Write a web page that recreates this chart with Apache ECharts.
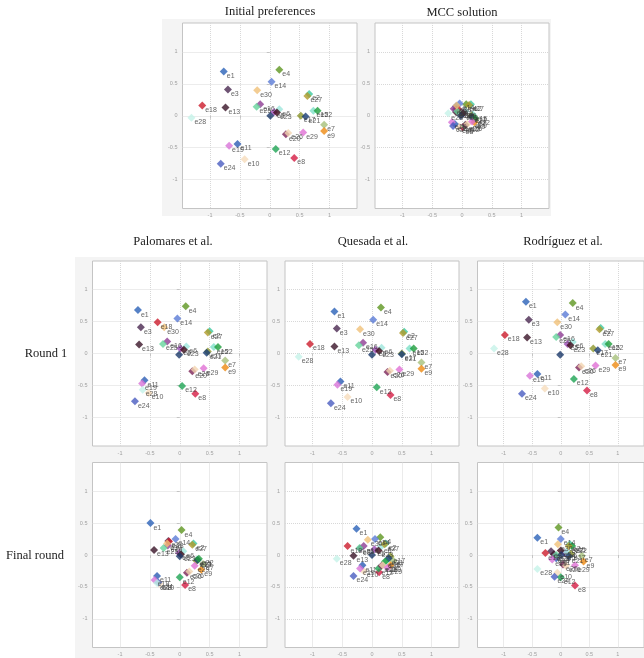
<!DOCTYPE html>
<html>
<head>
<meta charset="utf-8">
<script src="https://cdn.jsdelivr.net/npm/echarts@6/dist/echarts.min.js"></script>
<style>
  html, body { margin: 0; padding: 0; background: #fff; }
  #chart { width: 644px; height: 658px; }
</style>
</head>
<body>
<div id="chart"></div>
<script>
// expert names (last one is the unlabeled navy point near the origin)
const names = ["e1","e2","e3","e4","e5","e6","e7","e8","e9","e10","e11","e12","e13","e14","e15",
  "e16","e17","e18","e19","e20","e21","e22","e23","e24","e25","e26","e27","e28","e29","e30",""];

const colors = ["#2a62b8","#3cc8a0","#4a2850","#5e9620","#9a4ab4","#9ee6dc","#a6c07a","#d41c44",
  "#ee8a12","#f6dcbc","#2c5cb4","#1ea454","#3a1428","#5a7ad6","#7ee0c8","#8e3c94","#8c962c",
  "#cc1c2c","#d874d8","#7c2458","#183c74","#1e9e3c","#3c0a18","#4a5cc0","#66d49c","#f2d4b0",
  "#b09a2a","#c6f2e8","#e070d4","#f0c078","#1c3a6a"];

const tickValues = [-1, -0.5, 0, 0.5, 1];

const initialPrefs = [[-0.77,0.69],[0.66,0.34],[-0.70,0.41],[0.16,0.72],[0.07,0.06],[0.16,0.10],
  [0.91,-0.14],[0.41,-0.66],[0.91,-0.24],[-0.42,-0.68],[-0.54,-0.44],[0.10,-0.52],[-0.74,0.13],
  [0.03,0.53],[0.73,0.08],[-0.16,0.18],[0.52,0.0],[-1.13,0.16],[-0.68,-0.47],[0.27,-0.29],
  [0.60,-0.01],[0.80,0.08],[0.12,0.05],[-0.82,-0.75],[-0.22,0.14],[0.31,-0.27],[0.63,0.31],
  [-1.31,-0.03],[0.56,-0.26],[-0.21,0.40],[0.01,0.0]];

const mccSolution = [[-0.10,0.15],[0.15,0.18],[-0.10,0.10],[0.07,0.18],[0.03,0.05],[0.06,0.07],
  [0.22,-0.06],[0.01,-0.18],[0.21,-0.10],[-0.05,-0.17],[-0.12,-0.13],[0.05,-0.15],[-0.10,0.06],
  [-0.04,0.19],[0.18,0.02],[-0.14,0.11],[0.16,0.0],[-0.06,0.10],[-0.17,-0.10],[0.06,-0.14],
  [0.17,-0.02],[0.22,-0.04],[0.02,0.04],[-0.15,-0.16],[-0.08,0.07],[0.09,-0.13],[0.12,0.17],
  [-0.23,0.04],[0.17,-0.09],[-0.09,0.16],[-0.02,0.0]];

const palomaresR1 = [[-0.70,0.68],[0.50,0.35],[-0.65,0.41],[0.10,0.74],[0.01,0.08],[0.11,0.11],
  [0.76,-0.11],[0.26,-0.63],[0.76,-0.22],[-0.52,-0.62],[-0.59,-0.42],[0.04,-0.51],[-0.68,0.14],
  [-0.04,0.55],[0.57,0.10],[-0.21,0.19],[0.47,0.03],[-0.37,0.49],[-0.63,-0.47],[0.21,-0.28],
  [0.45,0.01],[0.64,0.10],[0.07,0.06],[-0.75,-0.75],[-0.28,0.15],[0.25,-0.25],[0.47,0.33],
  [-0.62,-0.57],[0.40,-0.23],[-0.26,0.41],[-0.01,-0.02]];

const quesadaR1 = [[-0.63,0.66],[0.54,0.34],[-0.59,0.39],[0.15,0.72],[0.06,0.06],[0.16,0.09],
  [0.83,-0.14],[0.31,-0.65],[0.83,-0.24],[-0.41,-0.68],[-0.53,-0.44],[0.08,-0.53],[-0.63,0.11],
  [0.02,0.53],[0.63,0.08],[-0.15,0.17],[0.50,0.0],[-1.04,0.15],[-0.58,-0.49],[0.26,-0.29],
  [0.50,-0.01],[0.70,0.08],[0.12,0.04],[-0.69,-0.78],[-0.22,0.13],[0.30,-0.27],[0.52,0.32],
  [-1.23,-0.05],[0.46,-0.25],[-0.20,0.38],[0.0,-0.02]];

const rodriguezR1 = [[-0.61,0.81],[0.70,0.40],[-0.56,0.53],[0.21,0.79],[0.12,0.15],[0.21,0.18],
  [0.96,-0.07],[0.46,-0.58],[0.96,-0.18],[-0.28,-0.55],[-0.41,-0.32],[0.23,-0.40],[-0.59,0.25],
  [0.08,0.61],[0.78,0.15],[-0.01,0.29],[0.57,0.08],[-0.98,0.29],[-0.54,-0.35],[0.32,-0.22],
  [0.65,0.05],[0.84,0.15],[0.17,0.13],[-0.68,-0.63],[-0.08,0.26],[0.36,-0.20],[0.68,0.38],
  [-1.17,0.08],[0.61,-0.19],[-0.06,0.49],[-0.01,-0.02]];

const palomaresFinal = [[-0.49,0.50],[0.23,0.18],[-0.19,0.22],[0.03,0.39],[-0.01,0.03],[0.06,0.06],
  [0.39,-0.14],[0.09,-0.47],[0.36,-0.23],[-0.34,-0.45],[-0.38,-0.33],[0.0,-0.35],[-0.43,0.08],
  [-0.07,0.25],[0.29,-0.07],[-0.20,0.15],[0.28,-0.09],[-0.18,0.21],[-0.42,-0.39],[0.12,-0.28],
  [0.30,-0.08],[0.32,-0.06],[0.02,0.01],[-0.36,-0.43],[-0.27,0.11],[0.16,-0.26],[0.21,0.16],
  [-0.38,-0.44],[0.25,-0.17],[-0.21,0.18],[0.0,-0.02]];

const quesadaFinal = [[-0.26,0.41],[0.23,0.18],[-0.20,0.10],[0.14,0.28],[0.04,0.09],[0.15,0.13],
  [0.36,-0.09],[0.12,-0.27],[0.31,-0.16],[-0.14,-0.25],[-0.16,-0.16],[0.11,-0.21],[-0.31,-0.01],
  [0.05,0.25],[0.24,-0.09],[-0.14,0.14],[0.31,-0.02],[-0.41,0.14],[-0.20,-0.21],[0.16,-0.17],
  [0.28,-0.05],[0.22,-0.10],[0.11,0.07],[-0.31,-0.33],[-0.21,0.11],[0.18,-0.16],[0.21,0.17],
  [-0.59,-0.06],[0.26,-0.20],[-0.07,0.24],[0.0,0.0]];

const rodriguezFinal = [[-0.41,0.27],[0.16,0.17],[-0.17,0.06],[-0.04,0.43],[0.07,0.03],[0.10,0.05],
  [0.37,-0.01],[0.25,-0.48],[0.40,-0.10],[-0.06,-0.28],[-0.08,-0.05],[0.0,-0.35],[-0.12,0.01],
  [0.0,0.25],[0.18,0.15],[-0.10,-0.02],[0.18,0.02],[-0.27,0.03],[-0.15,-0.07],[0.04,-0.15],
  [0.14,-0.02],[0.20,0.14],[0.0,0.07],[-0.11,-0.34],[-0.08,0.0],[0.09,-0.17],[0.14,0.14],
  [-0.41,-0.22],[0.25,-0.16],[-0.05,0.17],[0.01,0.0]];

// panel boxes (pixels)
const panels = [
  { data: initialPrefs,   left: 182.5, top: 23,    width: 174.5, height: 185.5 },
  { data: mccSolution,    left: 375,   top: 23,    width: 174,   height: 185.5 },
  { data: palomaresR1,    left: 92.5,  top: 261,   width: 174.5, height: 185 },
  { data: quesadaR1,      left: 285,   top: 261,   width: 174,   height: 185 },
  { data: rodriguezR1,    left: 477.5, top: 261,   width: 174,   height: 185 },
  { data: palomaresFinal, left: 92.5,  top: 462.5, width: 174.5, height: 185 },
  { data: quesadaFinal,   left: 285,   top: 462.5, width: 174,   height: 185 },
  { data: rodriguezFinal, left: 477.5, top: 462.5, width: 174,   height: 185 }
];

const chart = echarts.init(document.getElementById("chart"), null, { renderer: "canvas" });

const tickLabel = { fontSize: 5.5, color: "#a0a0a0", fontFamily: "Liberation Sans" };
const serif = "12.5px 'Liberation Serif'";

const option = {
  animation: false,
  backgroundColor: "#fff",
  graphic: [
    { type: "rect", z: -10, shape: { x: 162, y: 19, width: 389, height: 197 }, style: { fill: "#f4f4f4" } },
    { type: "rect", z: -10, shape: { x: 75, y: 257, width: 569, height: 401 }, style: { fill: "#f4f4f4" } },
    { type: "text", x: 270, y: 12, style: { text: "Initial preferences", textAlign: "center", textVerticalAlign: "middle", font: serif, fill: "#222" } },
    { type: "text", x: 462, y: 13, style: { text: "MCC solution", textAlign: "center", textVerticalAlign: "middle", font: serif, fill: "#222" } },
    { type: "text", x: 173, y: 242, style: { text: "Palomares et al.", textAlign: "center", textVerticalAlign: "middle", font: serif, fill: "#222" } },
    { type: "text", x: 373, y: 242, style: { text: "Quesada et al.", textAlign: "center", textVerticalAlign: "middle", font: serif, fill: "#222" } },
    { type: "text", x: 563, y: 242, style: { text: "Rodríguez et al.", textAlign: "center", textVerticalAlign: "middle", font: serif, fill: "#222" } },
    { type: "text", x: 46, y: 354, style: { text: "Round 1", textAlign: "center", textVerticalAlign: "middle", font: serif, fill: "#222" } },
    { type: "text", x: 35, y: 556, style: { text: "Final round", textAlign: "center", textVerticalAlign: "middle", font: serif, fill: "#222" } }
  ],
  grid: panels.map(p => ({
    left: p.left, top: p.top, width: p.width, height: p.height,
    show: true, backgroundColor: "#fff", borderColor: "#c4c4c4", borderWidth: 1
  })),
  xAxis: panels.map((p, i) => ({
    type: "value", gridIndex: i, min: -1.46, max: 1.46,
    axisLine: { show: false },
    axisTick: { show: true, length: 3, customValues: tickValues, lineStyle: { color: "#c4c4c4" } },
    axisLabel: Object.assign({ customValues: tickValues, margin: 4 }, tickLabel),
    splitLine: { show: true, lineStyle: { type: "dotted", color: "#d8d8d8" } }
  })),
  yAxis: panels.map((p, i) => ({
    type: "value", gridIndex: i, min: -1.45, max: 1.45,
    axisLine: { show: false },
    axisTick: { show: true, length: 3, customValues: tickValues, lineStyle: { color: "#c4c4c4" } },
    axisLabel: Object.assign({ customValues: tickValues, margin: 5 }, tickLabel),
    splitLine: { show: true, lineStyle: { type: "dotted", color: "#d8d8d8" } }
  })),
  series: panels.map((p, i) => ({
    type: "scatter",
    xAxisIndex: i,
    yAxisIndex: i,
    symbol: "diamond",
    symbolSize: 8,
    label: {
      show: true, formatter: "{b}", position: "right", distance: 0, offset: [-1, 4.5],
      fontSize: 7, color: "#3a3a3a", fontFamily: "Liberation Sans"
    },
    data: p.data.map((v, k) => ({ name: names[k], value: v, itemStyle: { color: colors[k] } }))
  }))
};

chart.setOption(option);
</script>
</body>
</html>
